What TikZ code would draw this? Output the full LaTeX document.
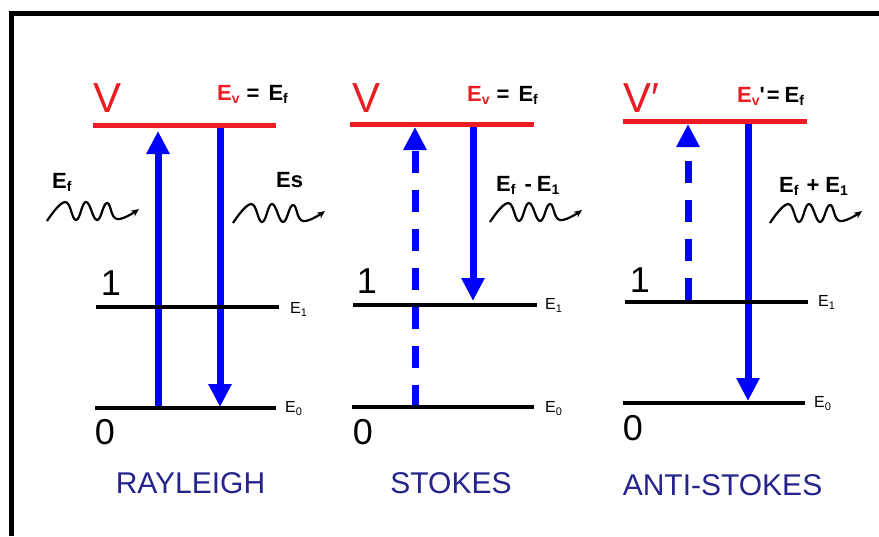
\documentclass[tikz,border=0pt]{standalone}
\usepackage{fontspec}
\setmainfont{Liberation Sans}
\usetikzlibrary{arrows.meta}
\definecolor{lvlred}{RGB}{236,28,36}
\definecolor{arrblue}{RGB}{0,0,255}
\definecolor{capblue}{RGB}{36,36,140}
\newcommand\fs[1]{\fontsize{#1}{#1}\selectfont}
\newcommand\sbs[1]{\raisebox{-3pt}{\fs{14}#1}}
\newcommand\ssbs[1]{\raisebox{-3pt}{\fs{11}#1}}
\tikzset{
  frameline/.style={line width=5pt, line join=miter},
  vlevel/.style={lvlred, line width=5pt},
  level/.style={black, line width=4.5pt},
  trans/.style={arrblue, line width=7pt, -{Triangle[length=23pt,width=22pt]}},
  virt/.style={trans, dash pattern=on 22pt off 17pt},
  wave/.style={line width=2.2pt, -{Stealth[length=8pt,width=7pt]}},
  vlabel/.style={lvlred, font=\fs{42}, inner sep=0pt, anchor=base west},
  num/.style={font=\fs{36}, inner sep=0pt, anchor=base},
  eqlabel/.style={font=\bfseries\fs{22}, inner sep=0pt, anchor=base west},
  elabel/.style={font=\fs{16}, inner sep=0pt, anchor=base west},
  caption/.style={capblue, font=\fs{30}, inner sep=0pt, anchor=base},
  pics/photon/.style={code={
    \draw[wave] plot[smooth, tension=0.75] coordinates
      {(0,0) (18,-19) (29,-1) (39,-19) (50,-1) (60,-18) (70,-2) (92,-12)};}}
}
\begin{document}
\begin{tikzpicture}[x=1pt, y=-1pt]
\useasboundingbox (0,0) rectangle (879,536);
\fill[white] (0,0) rectangle (879,536);
\draw[frameline] (11.5,536) -- (11.5,13) -- (879,13);

% ---------- coordinates of arrow ends ----------
\coordinate (r1) at (158,408);  \coordinate (r2) at (158,131);
\coordinate (r3) at (220,128);  \coordinate (r4) at (220,407);
\coordinate (s1) at (415,407);  \coordinate (s2) at (415,127);
\coordinate (s3) at (473,126);  \coordinate (s4) at (473,301);
\coordinate (a1) at (688,300);  \coordinate (a2) at (688,124);
\coordinate (a3) at (748,124);  \coordinate (a4) at (748,401);

% ---------- transitions ----------
\draw[trans] (r1) -- (r2);
\draw[trans] (r3) -- (r4);
\draw[virt]  (s1) -- (s2);
\draw[trans] (s3) -- (s4);
\draw[virt]  (a1) -- (a2);
\draw[trans] (a3) -- (a4);

% ---------- levels ----------
\draw[vlevel] (93,125.5) -- (276,125.5);
\draw[level]  (96,307) -- (279,307);
\draw[level]  (95,408) -- (276,408);

\draw[vlevel] (350,124) -- (534,124);
\draw[level]  (353,305) -- (537,305);
\draw[level]  (352,407) -- (534,407);

\draw[vlevel] (623,121.5) -- (807,121.5);
\draw[level]  (625,302) -- (808,302);
\draw[level]  (623,403) -- (805,403);

% ---------- labels panel 1 ----------
\node[vlabel] (v1) at (93,112) {V};
\node[eqlabel] (ev1) at (217,100) {\textcolor{lvlred}{E\sbs{v}}\hspace{7pt}=\hspace{9pt}E\sbs{f}};
\node[num] (n11) at (111,295) {1};
\node[num] (n10) at (105,444) {0};
\node[elabel] (e11) at (290,313) {E\ssbs{1}};
\node[elabel] (e10) at (285,412) {E\ssbs{0}};
\node[eqlabel] (ef) at (52,188) {E\sbs{f}};
\node[eqlabel] (es) at (276,187) {Es};
\pic at (47,221) {photon};
\pic at (233,223) {photon};
\node[caption] (c1) at (190.5,493) {RAYLEIGH};

% ---------- labels panel 2 ----------
\node[vlabel] (v2) at (352,112) {V};
\node[eqlabel] (ev2) at (467,101) {\textcolor{lvlred}{E\sbs{v}}\hspace{7pt}=\hspace{9pt}E\sbs{f}};
\node[num] (n21) at (367,293) {1};
\node[num] (n20) at (363,444) {0};
\node[elabel] (e21) at (545,309) {E\ssbs{1}};
\node[elabel] (e20) at (545,412) {E\ssbs{0}};
\node[eqlabel] (efm) at (496,191) {E\sbs{f}\hspace{9pt}-\hspace{5pt}E\sbs{1}};
\node[caption] (c2) at (451,493) {STOKES};
\pic at (490,222) {photon};

% ---------- labels panel 3 ----------
\node[vlabel] (v3) at (623,112) {V′};
\node[eqlabel] (ev3) at (737,102) {\textcolor{lvlred}{E\sbs{v}}\textquotesingle\hspace{2pt}=\hspace{5pt}E\sbs{f}};
\node[num] (n31) at (640,292) {1};
\node[num] (n30) at (633,440) {0};
\node[elabel] (e31) at (818,306) {E\ssbs{1}};
\node[elabel] (e30) at (814,407) {E\ssbs{0}};
\node[eqlabel] (efp) at (779,192) {E\sbs{f}\hspace{8pt}+\hspace{6pt}E\sbs{1}};
\node[caption] (c3) at (722.5,495) {ANTI-STOKES};
\pic at (770,223) {photon};
\end{tikzpicture}
\end{document}
